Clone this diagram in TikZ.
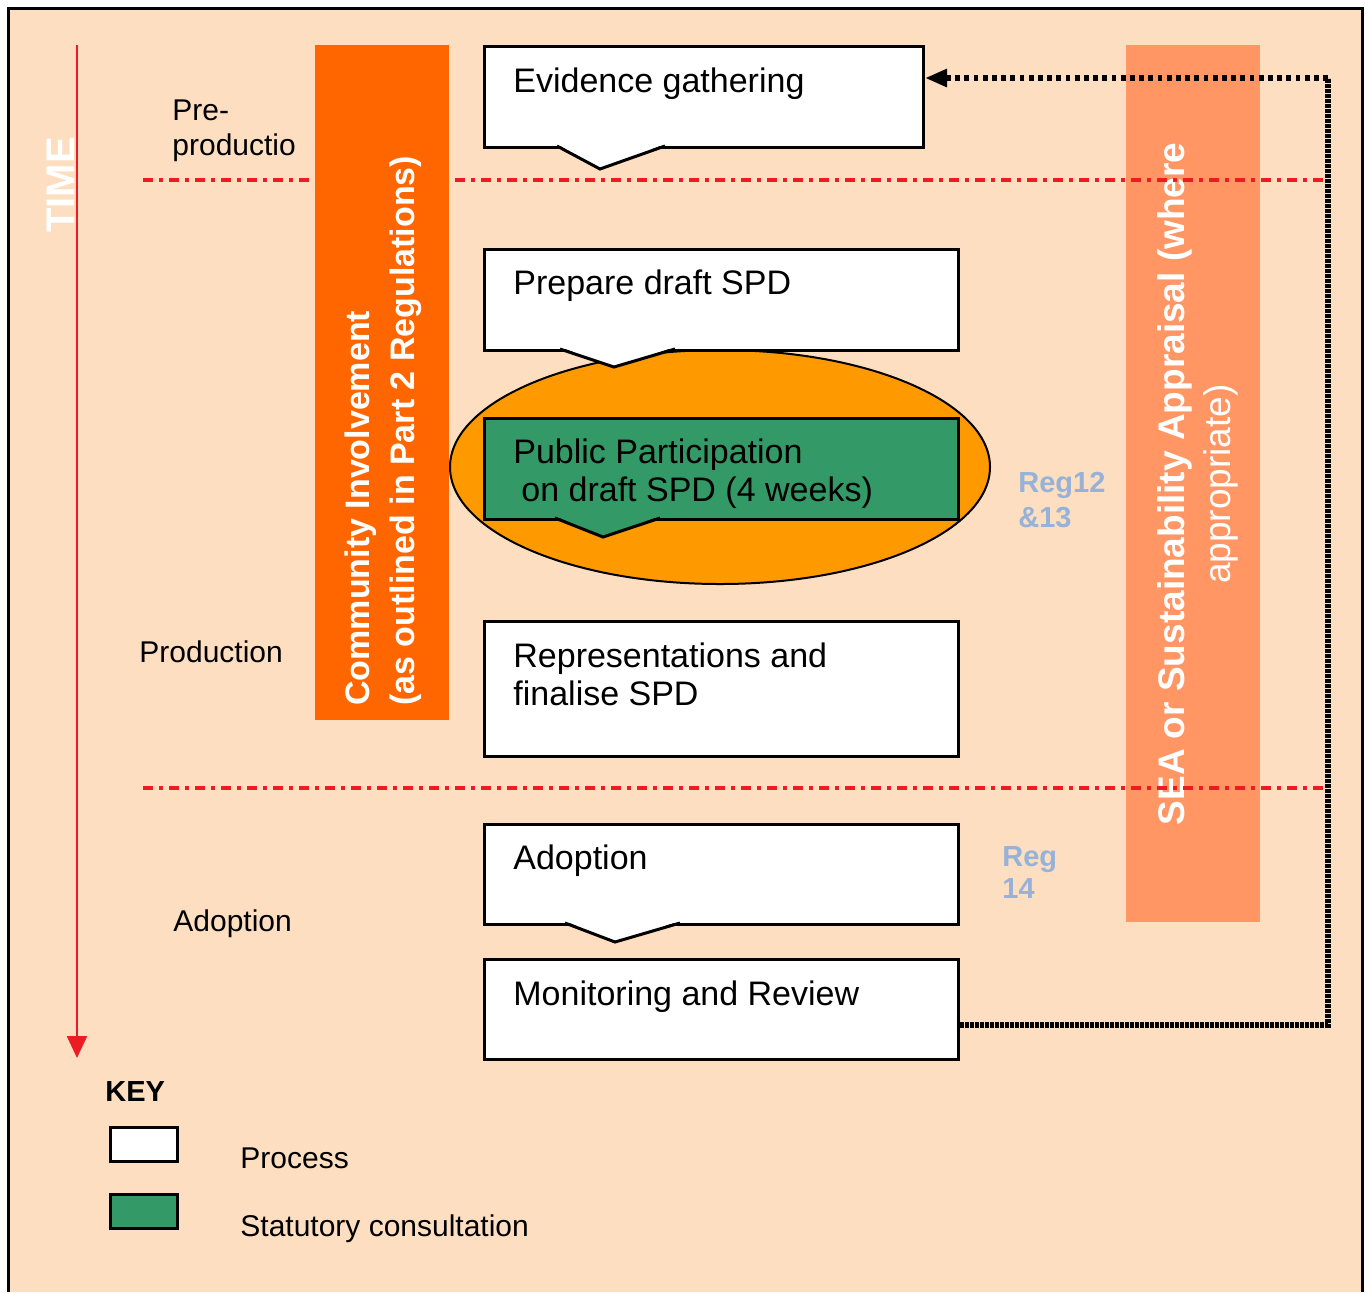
\documentclass[tikz,border=0pt]{standalone}
\usepackage{fontspec}
\setmainfont{Liberation Sans}
\usetikzlibrary{arrows.meta}
\definecolor{peach}{RGB}{253,222,192}
\definecolor{ciorange}{RGB}{255,102,0}
\definecolor{seasalmon}{RGB}{255,150,100}
\definecolor{ellorange}{RGB}{255,153,0}
\definecolor{statgreen}{RGB}{51,153,102}
\definecolor{timered}{RGB}{236,28,36}
\definecolor{regblue}{RGB}{150,178,216}
\newcommand{\mynotch}[6]{%
  \fill[#6] (#2,#1-2) -- (#3,#4) -- (#5,#1-2) -- cycle;
  \draw[line width=1.5pt, line join=miter] (#2,#1) -- (#3,#4) -- (#5,#1);}
\begin{document}
\begin{tikzpicture}[x=0.5pt,y=-0.5pt,
  proc/.style={draw=black, line width=1.5pt, fill=white, anchor=north west, inner sep=0pt, minimum width=237pt},
  boxtxt/.style={anchor=base west, inner sep=0pt, font=\fontsize{17}{20}\selectfont, align=left},
  lbl/.style={anchor=base west, inner sep=0pt, font=\fontsize{15}{18}\selectfont},
  regtxt/.style={anchor=base west, inner sep=0pt, font=\bfseries\fontsize{14.5}{17.5}\selectfont, text=regblue, align=left},
  phase/.style={timered, line width=1.6pt, dash pattern=on 5pt off 3.2pt on 1.6pt off 3.2pt},
  dense/.style={line width=3pt, dash pattern=on 2pt off 0.5pt},
  sparse/.style={line width=3pt, dash pattern=on 2.4pt off 2.2pt}]
\useasboundingbox (0,0) rectangle (1370,1292);
\fill[white] (0,0) rectangle (1370,1292);
\fill[peach] (8,8) rectangle (1362,1292);
\draw[line width=1.5pt] (8,1292) -- (8,8) -- (1362,8) -- (1362,1292);

% SEA bar
\fill[seasalmon] (1126,45) rectangle (1260,922);
\node[rotate=90, align=center, text=white, inner sep=0pt, font=\fontsize{18.5}{23}\selectfont] (sea) at (1198,484)
  {\textbf{SEA or Sustainability Appraisal (where}\\appropriate)};

% phase lines
\draw[phase] (143,180) -- (1328,180);
\draw[phase] (143,788) -- (1328,788);

% Community Involvement bar
\fill[ciorange] (315,45) rectangle (449,720);
\node[rotate=90, anchor=west, align=left, text=white, inner sep=0pt, font=\bfseries\fontsize{17}{22.5}\selectfont] (ci) at (383,706)
  {Community Involvement\\(as outlined in Part 2 Regulations)};

% TIME arrow
\coordinate (ttop) at (77,45);
\coordinate (tbot) at (77,1058);
\draw[timered, line width=1.2pt, -{Triangle[length=11pt,width=10pt]}] (ttop) -- (tbot);
\node[rotate=90, text=white, inner sep=0pt, font=\bfseries\fontsize{20}{24}\selectfont] (time) at (61,185) {TIME};

% ellipse
\draw[fill=ellorange, line width=1pt] (720,467) ellipse [x radius=270, y radius=117];

% boxes
\node[proc, minimum width=219.5pt, minimum height=50.5pt] (ev) at (483,45) {};
\mynotch{146}{557}{600}{169}{665}{white}
\node[boxtxt] (evt) at (513,92) {Evidence gathering};

\node[proc, minimum height=50.5pt] (prep) at (483,248) {};
\mynotch{349}{560}{614}{367}{675}{white}
\node[boxtxt] (prept) at (513,294) {Prepare draft SPD};

\node[proc, fill=statgreen, minimum height=50.5pt] (pub) at (483,417) {};
\mynotch{518}{555}{603}{537}{660}{statgreen}
\node[boxtxt] (pubt) at (513,463) {Public Participation};
\node[boxtxt] (pubt2) at (521,501) {on draft SPD (4 weeks)};

\node[proc, minimum height=67.5pt] (rep) at (483,620) {};
\node[boxtxt] (rept) at (513,667) {Representations and};
\node[boxtxt] (rept2) at (513,705) {finalise SPD};

\node[proc, minimum height=50pt] (adopt) at (483,823) {};
\mynotch{923}{565}{615}{942}{680}{white}
\node[boxtxt] (adoptt) at (513,869) {Adoption};

\node[proc, minimum height=50pt] (mon) at (483,958) {};
\node[boxtxt] (mont) at (513,1005) {Monitoring and Review};

% feedback connector
\coordinate (c1) at (1328,1025);
\coordinate (c2) at (1328,78);
\draw[dense] (mon.east |- c1) -- (c1) -- (c2);
\draw[sparse, -{Triangle[length=11pt,width=8.5pt]}] (c2) -- (ev.east |- c2);

% phase labels
\node[lbl] (pre1) at (172,120) {Pre-};
\node[lbl] (pre2) at (172,155) {productio};
\node[lbl] (prod) at (139,662) {Production};
\node[lbl] (adl) at (173,931) {Adoption};

% reg labels
\node[regtxt] (r1) at (1018,492) {Reg12};
\node[regtxt] (r2) at (1018,527) {\&13};
\node[regtxt] (r3) at (1002,866) {Reg};
\node[regtxt] (r4) at (1002,898) {14};

% key
\node[lbl, font=\bfseries\fontsize{14.5}{17}\selectfont] (key) at (105,1101) {KEY};
\draw[line width=1.5pt, fill=white] (110,1127) rectangle (177,1161);
\draw[line width=1.5pt, fill=statgreen] (110,1194) rectangle (177,1228);
\node[lbl] (kp) at (240,1168) {Process};
\node[lbl] (ks) at (240,1236) {Statutory consultation};
\end{tikzpicture}
\end{document}
